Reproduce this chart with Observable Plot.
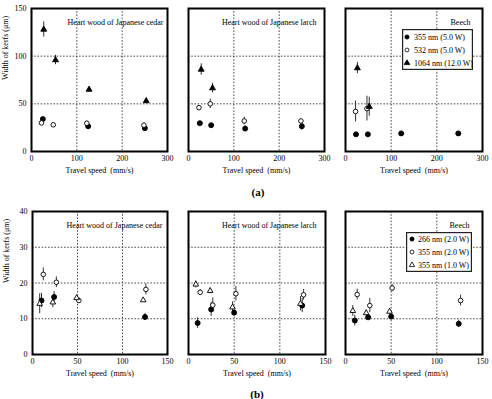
<!DOCTYPE html>
<html><head><meta charset="utf-8">
<script src="https://cdn.jsdelivr.net/npm/d3@7"></script>
<script src="https://cdn.jsdelivr.net/npm/@observablehq/plot@0.6"></script>
<style>
body{margin:0;background:#fff;}
#root{position:relative;width:492px;height:399px;overflow:hidden;background:#fff;font-family:"Liberation Serif","Times New Roman",Times,serif;color:#000;}
#root svg text{font-family:"Liberation Serif","Times New Roman",Times,serif !important;}
.panel{position:absolute;}
.tag{position:absolute;font-weight:bold;font-size:11px;transform:translate(-50%,-50%);}
.legend{position:absolute;overflow:visible;}
</style></head><body><div id="root"></div>
<script>
// ---------- data ----------
const panelNames = ["Heart wood of Japanese cedar", "Heart wood of Japanese larch", "Beech"];
const seriesA = ["355 nm (5.0 W)", "532 nm (5.0 W)", "1064 nm (12.0 W)"];
const seriesB = ["266 nm (2.0 W)", "355 nm (2.0 W)", "355 nm (1.0 W)"];
const symbolsA = ["filled-circle", "open-circle", "filled-triangle"];
const symbolsB = ["filled-circle", "open-circle", "open-triangle"];
const xTicksA = [0, 100, 200, 300], yTicksA = [0, 50, 100, 150];
const xTicksB = [0, 50, 100, 150], yTicksB = [0, 10, 20, 30, 40];
const xGridA = [100, 200], yGridA = [50, 100];
const xGridB = [50, 100], yGridB = [10, 20, 30];
const xLabel = "Travel speed\u00a0\u00a0(mm/s)";
const yLabel = "Width of kerfs (\u03bcm)";

// [series index, travel speed, kerf width, error half-length]
const cedarA = [
  [0, 25, 34, 1.5], [0, 125, 26.5, 2], [0, 250, 24.5, 2],
  [1, 22, 30, 2], [1, 48, 28, 1.5], [1, 122, 29.7, 2], [1, 248, 27.6, 2],
  [2, 27, 128, 8], [2, 53, 96, 5], [2, 127, 65, 1.5], [2, 253, 53, 1.5]
];
const larchA = [
  [0, 25, 29.7, 1.5], [0, 50, 27.6, 1.5], [0, 125, 24, 3], [0, 250, 26.5, 4],
  [1, 23, 46, 2], [1, 48, 50, 5], [1, 123, 32, 4], [1, 248, 32, 2],
  [2, 28, 86, 6], [2, 53, 66.5, 5]
];
const beechA = [
  [0, 23, 18, 0], [0, 49, 18, 0], [0, 122, 19, 0], [0, 247, 19, 0],
  [1, 22, 42, 11], [1, 47, 45, 13],
  [2, 26, 87.5, 6], [2, 52, 47, 10]
];
const cedarB = [
  [0, 10, 15.1, 2], [0, 24, 16.1, 1.5], [0, 125, 10.5, 1],
  [1, 12, 22.4, 1.8], [1, 26.5, 20.2, 1.5], [1, 51.5, 15.1, 0.8], [1, 126, 18.2, 1.5],
  [2, 8, 14.2, 2.8], [2, 22.6, 14.6, 1.5], [2, 49, 15.8, 0.8], [2, 123, 15.2, 0.5]
];
const larchB = [
  [0, 10, 8.8, 1.5], [0, 24.8, 12.6, 2], [0, 50, 11.7, 0.8], [0, 124.5, 13.7, 2],
  [1, 12.8, 17.4, 0.8], [1, 26.6, 13.8, 2], [1, 51.9, 17, 2], [1, 126, 16.7, 1.5],
  [2, 8, 19.6, 1], [2, 23.7, 17.8, 0.8], [2, 48.2, 13.2, 1.5], [2, 122.6, 14.2, 2]
];
const beechB = [
  [0, 10.2, 9.5, 1.5], [0, 24.8, 10.4, 0.8], [0, 50, 10.6, 0.8], [0, 124, 8.6, 1],
  [1, 12.8, 16.8, 1.5], [1, 26.6, 13.7, 2], [1, 51.1, 18.6, 1], [1, 126, 15.1, 1.5],
  [2, 8, 12.2, 1.5], [2, 22.7, 11.6, 0.8], [2, 48.2, 12, 0.8]
];

// ---------- layout ----------
const FONT = "'Liberation Serif', 'Times New Roman', Times, serif";
const FS = 8;
const symStyle = {
  "filled-circle":   {symbol: "circle",   r: 2.5, fill: "black", stroke: "black"},
  "open-circle":     {symbol: "circle",   r: 2.3, fill: "white", stroke: "black"},
  "filled-triangle": {symbol: "triangle", r: 2.2, fill: "black", stroke: "black"},
  "open-triangle":   {symbol: "triangle", r: 2.1, fill: "white", stroke: "black"}
};

const rows = [
  {top: 0, mt: 8, fh: 143, mb: 45, xDomain: [0, 300], yDomain: [0, 150],
   xTicks: xTicksA, yTicks: yTicksA, xGrid: xGridA, yGrid: yGridA,
   panels: [cedarA, larchA, beechA], series: seriesA, symbols: symbolsA,
   frames: [[31, 136], [188, 136], [345, 137]], titleDx: [-4, -8, -12],
   legend: {x: 402, y: 29, w: 71, h: 41, ys: [8, 21, 34], sx: 5, tx: 12},
   tag: {text: "(a)", x: 258, y: 192}},
  {top: 203, mt: 8, fh: 143, mb: 40, xDomain: [0, 150], yDomain: [0, 40],
   xTicks: xTicksB, yTicks: yTicksB, xGrid: xGridB, yGrid: yGridB,
   panels: [cedarB, larchB, beechB], series: seriesB, symbols: symbolsB,
   frames: [[32, 135], [188, 137], [345, 137]], titleDx: [-5, -9, -13],
   legend: {x: 406, y: 232, w: 66, h: 40, ys: [7, 20, 33], sx: 6, tx: 12},
   tag: {text: "(b)", x: 257, y: 394}}
];

const root = document.getElementById("root");

rows.forEach(row => {
  row.panels.forEach((pts, i) => {
    const data = pts.map(([s, speed, width, err]) => ({s, speed, width, err}));
    const [fl, fw] = row.frames[i];
    const ml = i === 0 ? fl : 12;
    const mr = 14;
    const marks = [
      Plot.ruleX(row.xGrid, {stroke: "#222", strokeWidth: 0.8, strokeDasharray: "1.6,1.6"}),
      Plot.ruleY(row.yGrid, {stroke: "#222", strokeWidth: 0.8, strokeDasharray: "1.6,1.6"}),
      Plot.axisX(row.xTicks, {tickSize: 0, tickPadding: 4, label: null, fontSize: FS, fontFamily: FONT}),
      Plot.ruleX(data.filter(d => d.err > 0), {x: "speed", y1: d => d.width - d.err, y2: d => d.width + d.err, stroke: "#333", strokeWidth: 1}),
      ...row.series.map((name, k) => {
        const st = symStyle[row.symbols[k]];
        return Plot.dot(data.filter(d => d.s === k), {x: "speed", y: "width", symbol: st.symbol, r: st.r, fill: st.fill, stroke: st.stroke, strokeWidth: 0.9});
      }),
      Plot.text([panelNames[i]], {frameAnchor: "top-right", dx: row.titleDx[i], dy: 11, textAnchor: "end", fontSize: FS, fontFamily: FONT}),
      Plot.text([xLabel], {frameAnchor: "bottom", dy: 21, fontSize: FS, fontFamily: FONT}),
      Plot.frame({stroke: "black", strokeWidth: 2})
    ];
    if (i === 0) {
      marks.push(Plot.axisY(row.yTicks, {tickSize: 0, tickPadding: 5, label: null, fontSize: FS, fontFamily: FONT}));
      marks.push(Plot.text([yLabel], {frameAnchor: "left", dx: -26, rotate: -90, fontSize: FS, fontFamily: FONT}));
    }
    const chart = Plot.plot({
      width: ml + fw + mr,
      height: row.mt + row.fh + row.mb,
      marginLeft: ml, marginRight: mr, marginTop: row.mt, marginBottom: row.mb,
      x: {domain: row.xDomain, axis: null},
      y: {domain: row.yDomain, axis: null},
      style: {fontFamily: FONT, fontSize: FS + "px", background: "none", overflow: "visible", color: "black"},
      marks
    });
    chart.classList.add("panel");
    chart.style.left = (fl - ml) + "px";
    chart.style.top = row.top + "px";
    root.appendChild(chart);
  });

  // legend box inside the Beech panel
  const L = row.legend;
  const svg = d3.select(root).append("svg").attr("class", "legend")
    .style("left", L.x + "px").style("top", L.y + "px")
    .attr("width", L.w).attr("height", L.h);
  svg.append("rect").attr("x", 0.6).attr("y", 0.6).attr("width", L.w - 1.2).attr("height", L.h - 1.2)
    .attr("fill", "white").attr("stroke", "#222").attr("stroke-width", 1.2);
  row.series.forEach((name, k) => {
    const st = symStyle[row.symbols[k]];
    const sym = (st.symbol === "circle" ? d3.symbolCircle : d3.symbolTriangle);
    const size = Math.PI * st.r * st.r * (st.symbol === "circle" ? 0.7 : 0.9);
    svg.append("path").attr("d", d3.symbol(sym, size)())
      .attr("transform", `translate(${L.sx},${L.ys[k]})`)
      .attr("fill", st.fill).attr("stroke", st.stroke).attr("stroke-width", 0.8);
    svg.append("text").attr("x", L.tx).attr("y", L.ys[k]).attr("dy", "0.35em")
      .attr("font-size", FS).text(name);
  });

  const t = document.createElement("div");
  t.className = "tag";
  t.textContent = row.tag.text;
  t.style.left = row.tag.x + "px";
  t.style.top = row.tag.y + "px";
  root.appendChild(t);
});
</script></body></html>
